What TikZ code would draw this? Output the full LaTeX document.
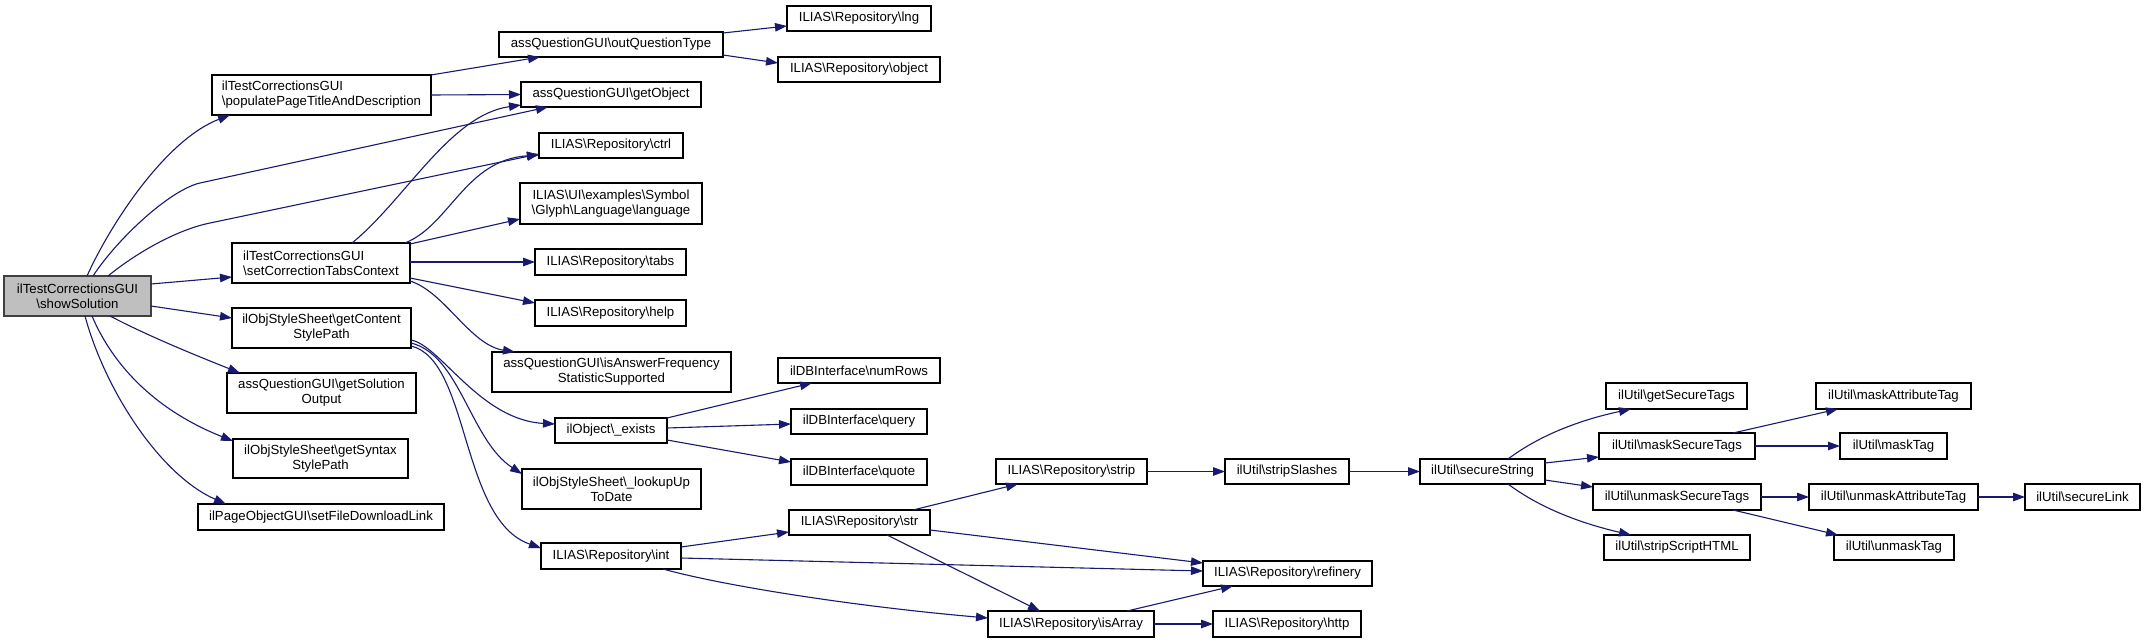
\documentclass[tikz,border=0pt]{standalone}
\usepackage{fontspec}
\setmainfont{Liberation Sans}
\usetikzlibrary{arrows.meta}
\definecolor{edgecol}{HTML}{191970}
\definecolor{rootfill}{HTML}{BFBFBF}
\newcommand\bsl{\textbackslash}
\begin{document}
\begin{tikzpicture}[x=1pt,y=-1pt,
  box/.style={draw=black,line width=1.1pt,fill=white,inner sep=0pt,outer sep=0pt,anchor=north west,
    font=\fontsize{13.2}{15}\selectfont,align=center},
  lbox/.style={box,align=left},
  edge/.style={draw=edgecol,line width=1.1pt,-{Triangle[length=12pt,width=8.5pt]}}]
\useasboundingbox[fill=white] (0,0) rectangle (2147,643);
% column 1
\node[box,fill=rootfill,draw=black!75,minimum width=147pt,minimum height=40pt] (root) at (4,276) {ilTestCorrectionsGUI\\\bsl showSolution};
\node[lbox,minimum width=219pt,minimum height=40pt] (pop) at (212,75) {ilTestCorrectionsGUI\\\bsl populatePageTitleAndDescription};
\node[lbox,minimum width=178pt,minimum height=40pt] (setcorr) at (232,243) {ilTestCorrectionsGUI\\\bsl setCorrectionTabsContext};
\node[box,minimum width=179pt,minimum height=40pt] (getcontent) at (232,308) {ilObjStyleSheet\bsl getContent\\StylePath};
\node[box,minimum width=189pt,minimum height=40pt] (getsol) at (227,373) {assQuestionGUI\bsl getSolution\\Output};
\node[box,minimum width=175pt,minimum height=39pt] (getsyntax) at (233,439) {ilObjStyleSheet\bsl getSyntax\\StylePath};
\node[box,minimum width=246pt,minimum height=26pt] (setfile) at (198,504) {ilPageObjectGUI\bsl setFileDownloadLink};
% column 2
\node[box,minimum width=224pt,minimum height=25pt] (outqt) at (499,32) {assQuestionGUI\bsl outQuestionType};
\node[box,minimum width=180pt,minimum height=25pt] (getobj) at (521,82) {assQuestionGUI\bsl getObject};
\node[box,minimum width=144pt,minimum height=25pt] (ctrl) at (539,133) {ILIAS\bsl Repository\bsl ctrl};
\node[box,minimum width=182pt,minimum height=41pt] (lang) at (520,183) {ILIAS\bsl UI\bsl examples\bsl Symbol\\\bsl Glyph\bsl Language\bsl language};
\node[box,minimum width=151pt,minimum height=26pt] (tabs) at (535,249) {ILIAS\bsl Repository\bsl tabs};
\node[box,minimum width=151pt,minimum height=26pt] (help) at (535,300) {ILIAS\bsl Repository\bsl help};
\node[box,minimum width=239pt,minimum height=40pt] (isans) at (492,352) {assQuestionGUI\bsl isAnswerFrequency\\StatisticSupported};
\node[box,minimum width=112pt,minimum height=25pt] (exists) at (555,418) {ilObject\bsl \_exists};
\node[box,minimum width=179pt,minimum height=40pt] (lookup) at (522,469) {ilObjStyleSheet\bsl \_lookupUp\\ToDate};
\node[box,minimum width=140pt,minimum height=26pt] (int) at (541,543) {ILIAS\bsl Repository\bsl int};
% column 3
\node[box,minimum width=144pt,minimum height=25pt] (lng) at (787,6) {ILIAS\bsl Repository\bsl lng};
\node[box,minimum width=162pt,minimum height=25pt] (object) at (778,57) {ILIAS\bsl Repository\bsl object};
\node[box,minimum width=162pt,minimum height=25pt] (numrows) at (778,358) {ilDBInterface\bsl numRows};
\node[box,minimum width=136pt,minimum height=25pt] (query) at (791,409) {ilDBInterface\bsl query};
\node[box,minimum width=136pt,minimum height=26pt] (quote) at (791,459) {ilDBInterface\bsl quote};
\node[box,minimum width=141pt,minimum height=25pt] (str) at (789,510) {ILIAS\bsl Repository\bsl str};
% column 4
\node[box,minimum width=151pt,minimum height=25pt] (strip) at (996,459) {ILIAS\bsl Repository\bsl strip};
\node[box,minimum width=166pt,minimum height=26pt] (isarray) at (988,611) {ILIAS\bsl Repository\bsl isArray};
% column 5
\node[box,minimum width=124pt,minimum height=25pt] (stripsl) at (1225,459) {ilUtil\bsl stripSlashes};
\node[box,minimum width=169pt,minimum height=25pt] (refinery) at (1203,561) {ILIAS\bsl Repository\bsl refinery};
\node[box,minimum width=148pt,minimum height=26pt] (http) at (1213,611) {ILIAS\bsl Repository\bsl http};
% column 6
\node[box,minimum width=125pt,minimum height=25pt] (securestr) at (1420,459) {ilUtil\bsl secureString};
% column 7
\node[box,minimum width=141pt,minimum height=26pt] (getsec) at (1606,383) {ilUtil\bsl getSecureTags};
\node[box,minimum width=156pt,minimum height=26pt] (masksec) at (1599,433) {ilUtil\bsl maskSecureTags};
\node[box,minimum width=168pt,minimum height=26pt] (unmasksec) at (1593,484) {ilUtil\bsl unmaskSecureTags};
\node[box,minimum width=146pt,minimum height=25pt] (stripscript) at (1604,535) {ilUtil\bsl stripScriptHTML};
% column 8
\node[box,minimum width=155pt,minimum height=26pt] (maskattr) at (1816,383) {ilUtil\bsl maskAttributeTag};
\node[box,minimum width=107pt,minimum height=26pt] (masktag) at (1840,433) {ilUtil\bsl maskTag};
\node[box,minimum width=169pt,minimum height=26pt] (unmaskattr) at (1809,484) {ilUtil\bsl unmaskAttributeTag};
\node[box,minimum width=120pt,minimum height=25pt] (unmasktag) at (1834,535) {ilUtil\bsl unmaskTag};
% column 9
\node[box,minimum width=115pt,minimum height=26pt] (securelink) at (2025,484) {ilUtil\bsl secureLink};
% edges from root
\draw[edge] ([shift={(83,0)}]root.north west) .. controls (110,225) and (165,140) .. ([shift={(18,40)}]pop.north west);
\draw[edge] ([shift={(89,0)}]root.north west) .. controls (118,238) and (170,190) .. (200,183) -- ([shift={(27,25)}]getobj.north west);
\draw[edge] ([shift={(104,0)}]root.north west) .. controls (140,250) and (180,229) .. (210,223) -- ([shift={(0,21)}]ctrl.north west);
\draw[edge] ([shift={(147,8)}]root.north west) -- ([shift={(0,34)}]setcorr.north west);
\draw[edge] ([shift={(147,30)}]root.north west) -- ([shift={(0,10)}]getcontent.north west);
\draw[edge] ([shift={(106,40)}]root.north west) .. controls (150,337) and (200,357) .. ([shift={(13,0)}]getsol.north west);
\draw[edge] ([shift={(88,40)}]root.north west) .. controls (115,370) and (160,412) .. ([shift={(0,2)}]getsyntax.north west);
\draw[edge] ([shift={(81,40)}]root.north west) .. controls (105,390) and (160,475) .. ([shift={(28,0)}]setfile.north west);
% pop
\draw[edge] ([shift={(219,0)}]pop.north west) -- ([shift={(41,25)}]outqt.north west);
\draw[edge] (pop.east) -- (getobj.west);
% setcorr
\draw[edge] ([shift={(120,0)}]setcorr.north west) .. controls (405,200) and (450,115) .. ([shift={(0,23)}]getobj.north west);
\draw[edge] ([shift={(173,0)}]setcorr.north west) .. controls (450,225) and (465,160) .. ([shift={(0,22)}]ctrl.north west);
\draw[edge] ([shift={(178,1)}]setcorr.north west) -- ([shift={(0,36)}]lang.north west);
\draw[edge] ([shift={(178,19)}]setcorr.north west) -- ([shift={(0,13)}]tabs.north west);
\draw[edge] ([shift={(178,35)}]setcorr.north west) -- ([shift={(0,3)}]help.north west);
\draw[edge] ([shift={(178,38)}]setcorr.north west) .. controls (445,292) and (470,345) .. ([shift={(23,0)}]isans.north west);
% getcontent
\draw[edge] ([shift={(179,32)}]getcontent.north west) .. controls (440,345) and (480,420) .. ([shift={(0,6)}]exists.north west);
\draw[edge] ([shift={(179,35)}]getcontent.north west) .. controls (460,355) and (470,440) .. ([shift={(0,5)}]lookup.north west);
\draw[edge] ([shift={(179,38)}]getcontent.north west) .. controls (470,360) and (460,520) .. ([shift={(0,5)}]int.north west);
% exists
\draw[edge] ([shift={(112,0)}]exists.north west) -- ([shift={(34,25)}]numrows.north west);
\draw[edge] ([shift={(112,10)}]exists.north west) -- ([shift={(0,15)}]query.north west);
\draw[edge] ([shift={(112,22)}]exists.north west) -- ([shift={(0,3)}]quote.north west);
% int
\draw[edge] ([shift={(140,4)}]int.north west) -- ([shift={(0,22)}]str.north west);
\draw[edge] ([shift={(140,15)}]int.north west) -- ([shift={(0,10)}]refinery.north west);
\draw[edge] ([shift={(122,26)}]int.north west) .. controls (720,585) and (850,606) .. ([shift={(0,7)}]isarray.north west);
% str
\draw[edge] ([shift={(124,0)}]str.north west) -- ([shift={(22,25)}]strip.north west);
\draw[edge] ([shift={(141,20)}]str.north west) -- ([shift={(0,2)}]refinery.north west);
\draw[edge] ([shift={(98,25)}]str.north west) -- ([shift={(52,0)}]isarray.north west);
% isarray
\draw[edge] ([shift={(139,0)}]isarray.north west) -- ([shift={(30,25)}]refinery.north west);
\draw[edge] (isarray.east) -- (http.west);
% chain
\draw[edge] (strip.east) -- (stripsl.west);
\draw[edge] (stripsl.east) -- (securestr.west);
% securestr
\draw[edge] ([shift={(88,0)}]securestr.north west) .. controls (1540,435) and (1580,420) .. ([shift={(25,26)}]getsec.north west);
\draw[edge] ([shift={(125,4)}]securestr.north west) -- ([shift={(0,24)}]masksec.north west);
\draw[edge] ([shift={(125,21)}]securestr.north west) -- ([shift={(0,3)}]unmasksec.north west);
\draw[edge] ([shift={(88,25)}]securestr.north west) .. controls (1540,508) and (1580,523) .. ([shift={(27,0)}]stripscript.north west);
% masksec / unmasksec
\draw[edge] ([shift={(134,0)}]masksec.north west) -- ([shift={(22,26)}]maskattr.north west);
\draw[edge] (masksec.east) -- (masktag.west);
\draw[edge] (unmasksec.east) -- (unmaskattr.west);
\draw[edge] ([shift={(140,26)}]unmasksec.north west) -- ([shift={(4,0)}]unmasktag.north west);
\draw[edge] (unmaskattr.east) -- (securelink.west);
% outqt
\draw[edge] ([shift={(224,1)}]outqt.north west) -- ([shift={(0,20)}]lng.north west);
\draw[edge] ([shift={(224,23)}]outqt.north west) -- ([shift={(0,6)}]object.north west);
\end{tikzpicture}
\end{document}
